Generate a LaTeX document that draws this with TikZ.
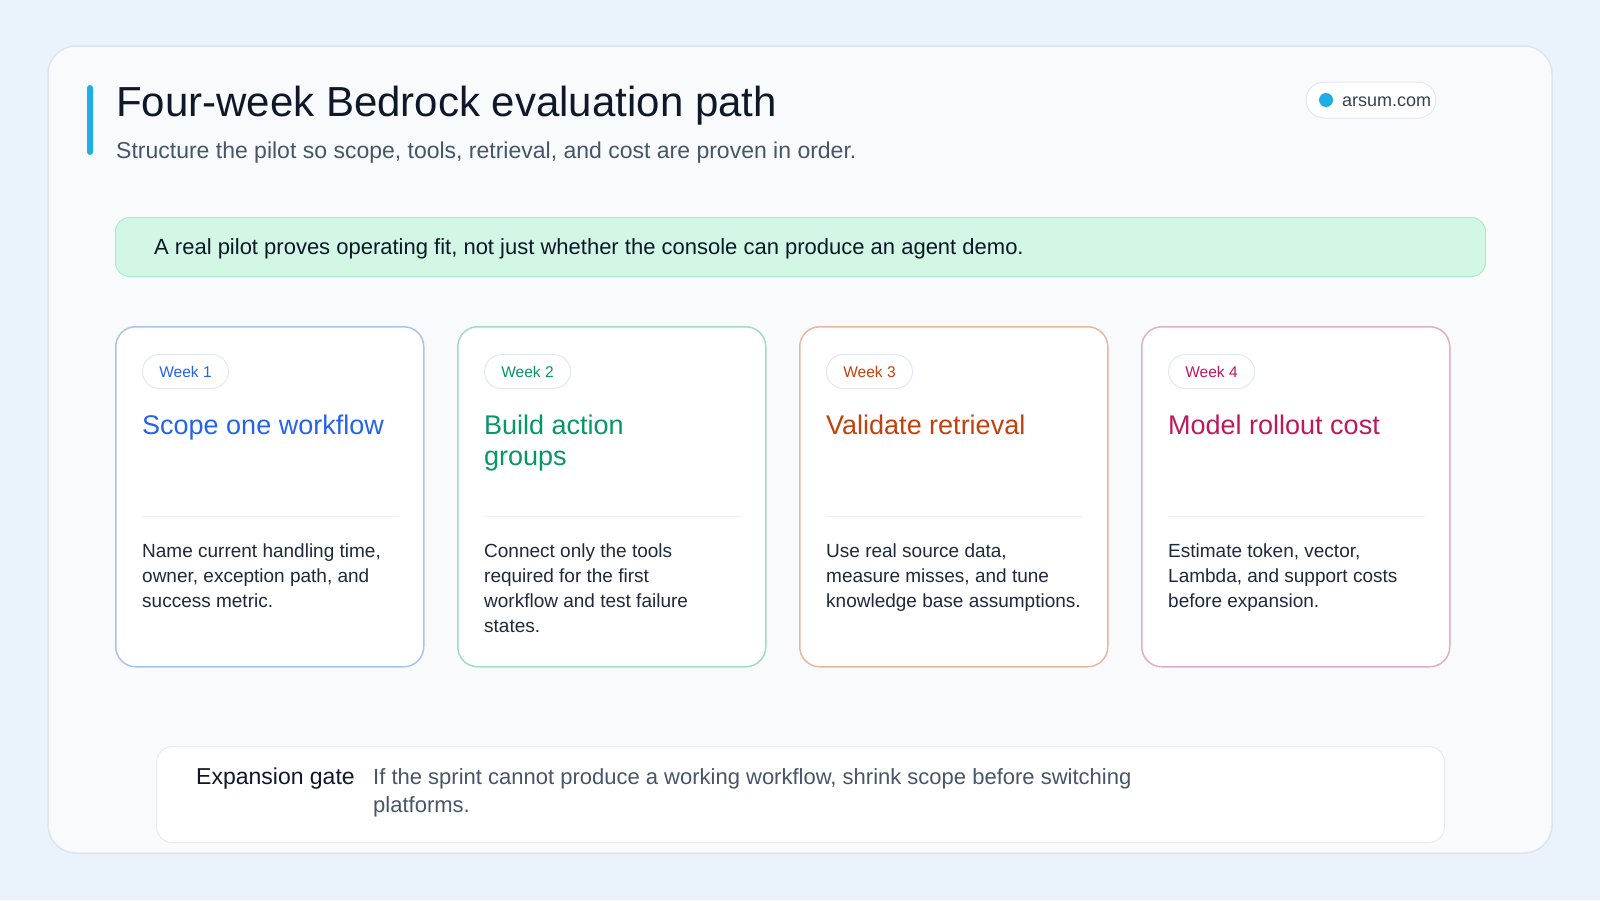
\documentclass[tikz,border=0pt]{standalone}
\usepackage{fontspec}
\setmainfont{Liberation Sans}
\usetikzlibrary{positioning}

\definecolor{pagebg}{HTML}{EAF3FC}
\definecolor{panelfill}{HTML}{F8FAFC}
\definecolor{panelline}{HTML}{DCE5EF}
\definecolor{accent}{HTML}{1DAEE5}
\definecolor{headink}{HTML}{0F172A}
\definecolor{subink}{HTML}{475569}
\definecolor{siteink}{HTML}{334155}
\definecolor{mintfill}{HTML}{D2F7E4}
\definecolor{mintline}{HTML}{ABEBCB}
\definecolor{pillline}{HTML}{E2E8F0}
\definecolor{divline}{HTML}{EDF1F5}
\definecolor{descink}{HTML}{1E293B}
\definecolor{gateline}{HTML}{E6ECF2}
% card accents
\definecolor{wkblue}{HTML}{2563EB}
\definecolor{wkgreen}{HTML}{059669}
\definecolor{wkorange}{HTML}{C2410C}
\definecolor{wkpink}{HTML}{BE185D}
\definecolor{lnblue}{HTML}{A8C3EE}
\definecolor{lngreen}{HTML}{A3DAC6}
\definecolor{lnorange}{HTML}{E8B79E}
\definecolor{lnpink}{HTML}{E3ADC2}

\begin{document}
\begin{tikzpicture}[x=1pt, y=-1pt,
  txt/.style={inner sep=0pt, anchor=base west, align=left},
  card/.style={draw=#1, line width=1.5pt, fill=white, rounded corners=20pt,
    anchor=north west, minimum width=308pt, minimum height=340pt, inner sep=0pt},
  weekpill/.style={draw=pillline, line width=1pt, fill=white, rounded corners=17pt,
    anchor=north west, minimum width=86pt, minimum height=34pt, inner sep=0pt,
    text=#1, font=\fontsize{15.5}{18}\selectfont},
  cardhead/.style={txt, text=#1, font=\fontsize{27}{31}\selectfont},
  carddesc/.style={txt, text=descink, font=\fontsize{19}{25}\selectfont},
  divider/.style={draw=divline, line width=1pt}]
  \fill[pagebg] (0,0) rectangle (1600,900);
  \useasboundingbox (0,0) rectangle (1600,900);
  \draw[panelline, fill=panelfill, line width=1.5pt, rounded corners=28pt] (48,46) rectangle (1552,853);

  % header
  \fill[accent, rounded corners=3pt] (87,85) rectangle (93,155);
  \node[txt, text=headink, font=\fontsize{42}{48}\selectfont] (title) at (116,116) {Four-week Bedrock evaluation path};
  \node[txt, text=subink, font=\fontsize{23}{27}\selectfont] (subtitle) at (116,158) {Structure the pilot so scope, tools, retrieval, and cost are proven in order.};
  \node[draw=pillline, line width=1pt, fill=white, rounded corners=18pt, minimum width=130pt, minimum height=36pt] (badge) at (1371,100) {};
  \node[circle, fill=accent, minimum size=14pt, inner sep=0pt] (dot) at (1326,100) {};
  \node[txt, text=siteink, font=\fontsize{18}{22}\selectfont] (site) at (1342,106) {arsum.com};

  % lede
  \node[draw=mintline, line width=1pt, fill=mintfill, rounded corners=14pt, anchor=north west,
    minimum width=1370pt, minimum height=59pt] (lede) at (115,217) {};
  \node[txt, text=headink, font=\fontsize{22}{26}\selectfont] (ledetext) at ([xshift=39pt, yshift=-37pt]lede.north west)
    {A real pilot proves operating fit, not just whether the console can produce an agent demo.};

  % week 1
  \node[card=lnblue] (card1) at (115,326) {};
  \node[weekpill=wkblue] (wk1) at ([xshift=27pt, yshift=-28pt]card1.north west) {Week 1};
  \node[cardhead=wkblue] (head1) at ([xshift=27pt, yshift=-108pt]card1.north west) {Scope one workflow};
  \draw[divider] ([xshift=27pt, yshift=-190pt]card1.north west) -- ([xshift=-26pt, yshift=-190pt]card1.north east);
  \node[carddesc] (desc1) at ([xshift=27pt, yshift=-281pt]card1.north west)
    {Name current handling time,\\owner, exception path, and\\success metric.};

  % week 2
  \node[card=lngreen] (card2) at (457,326) {};
  \node[weekpill=wkgreen] (wk2) at ([xshift=27pt, yshift=-28pt]card2.north west) {Week 2};
  \node[cardhead=wkgreen] (head2) at ([xshift=27pt, yshift=-139pt]card2.north west) {Build action\\groups};
  \draw[divider] ([xshift=27pt, yshift=-190pt]card2.north west) -- ([xshift=-26pt, yshift=-190pt]card2.north east);
  \node[carddesc] (desc2) at ([xshift=27pt, yshift=-306pt]card2.north west)
    {Connect only the tools\\required for the first\\workflow and test failure\\states.};

  % week 3
  \node[card=lnorange] (card3) at (799,326) {};
  \node[weekpill=wkorange] (wk3) at ([xshift=27pt, yshift=-28pt]card3.north west) {Week 3};
  \node[cardhead=wkorange] (head3) at ([xshift=27pt, yshift=-108pt]card3.north west) {Validate retrieval};
  \draw[divider] ([xshift=27pt, yshift=-190pt]card3.north west) -- ([xshift=-26pt, yshift=-190pt]card3.north east);
  \node[carddesc] (desc3) at ([xshift=27pt, yshift=-281pt]card3.north west)
    {Use real source data,\\measure misses, and tune\\knowledge base assumptions.};

  % week 4
  \node[card=lnpink] (card4) at (1141,326) {};
  \node[weekpill=wkpink] (wk4) at ([xshift=27pt, yshift=-28pt]card4.north west) {Week 4};
  \node[cardhead=wkpink] (head4) at ([xshift=27pt, yshift=-108pt]card4.north west) {Model rollout cost};
  \draw[divider] ([xshift=27pt, yshift=-190pt]card4.north west) -- ([xshift=-26pt, yshift=-190pt]card4.north east);
  \node[carddesc] (desc4) at ([xshift=27pt, yshift=-281pt]card4.north west)
    {Estimate token, vector,\\Lambda, and support costs\\before expansion.};

  % gate
  \node[draw=gateline, line width=1pt, fill=white, rounded corners=16pt, anchor=north west,
    minimum width=1288pt, minimum height=96pt] (gate) at (156,746) {};
  \node[txt, text=headink, font=\fontsize{23}{28}\selectfont] (gatelabel) at ([xshift=40pt, yshift=-38pt]gate.north west) {Expansion gate};
  \node[txt, text=subink, font=\fontsize{22}{28}\selectfont] (gatetext) at ([xshift=217pt, yshift=-66pt]gate.north west)
    {If the sprint cannot produce a working workflow, shrink scope before switching\\platforms.};
\end{tikzpicture}
\end{document}
